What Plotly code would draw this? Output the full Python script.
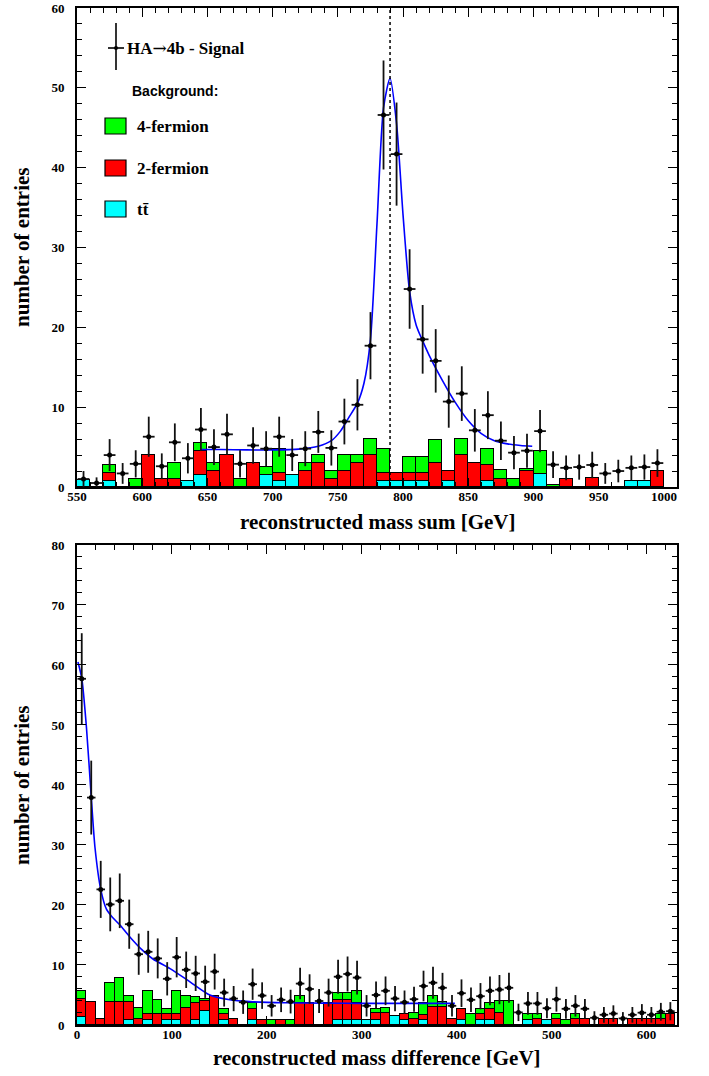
import numpy as np
import plotly.graph_objects as go

# ---------------- data: top panel (mass sum) ----------------
sum_edges = list(range(550, 1000, 10))  # left bin edges, 10 GeV bins
sum_signal = [1.0, 0.5, 4.0, 1.7, 2.9, 6.3, 2.6, 5.6, 3.6, 7.2,
              5.0, 6.6, 2.9, 5.2, 4.8, 6.3, 4.0, 4.8, 6.9, 4.9,
              8.2, 10.3, 17.7, 46.6, 41.7, 24.8, 18.5, 15.8, 10.7, 11.7,
              7.1, 9.0, 5.8, 4.3, 4.55, 7.0, 2.8, 2.4, 2.5, 2.76,
              1.7, 2.0, 2.4, 2.5, 3.0]
sum_tt = [0.85, 0, 0.8, 0, 0, 0, 0, 0, 0.8, 1.55,
          0, 0, 0, 0, 1.55, 0.8, 1.55, 0, 0, 0,
          0, 0, 0, 0.8, 0.8, 0.8, 0.8, 0, 0.8, 0,
          0, 0.8, 0, 0, 0, 1.6, 0, 0, 0, 0,
          0, 0, 0.8, 0.8, 0]
sum_2f = [0, 0, 0.95, 0, 0, 4.0, 1.0, 1.0, 0, 2.9,
          2.0, 4.0, 0, 2.97, 0, 1.0, 0, 2.0, 2.97, 1.0,
          2.0, 2.97, 3.97, 1.0, 1.0, 1.0, 1.0, 2.97, 1.2, 3.97,
          3.05, 1.96, 1.0, 0, 2.0, 0, 0, 1.05, 0, 1.1,
          0, 0, 0, 0, 2.05]
sum_4f = [0, 0, 1.0, 0, 1.0, 0, 0, 1.97, 0, 1.05,
          0.97, 0, 1.0, 0, 1.0, 2.93, 0, 0.97, 1.0, 1.0,
          1.97, 1.0, 2.0, 2.93, 0, 1.9, 1.9, 2.93, 0, 2.0,
          0, 2.04, 1.13, 1.0, 0.2, 2.9, 0.3, 0, 0, 0,
          0, 0, 0, 0, 0]
sum_fit_x = [645, 660, 680, 700, 720, 735, 745, 752, 758, 765, 770, 775, 780,
             785, 790, 795, 800, 805, 810, 815, 820, 830, 840, 850, 860, 870,
             880, 890, 899]
sum_fit_y = [4.7, 4.7, 4.65, 4.65, 4.75, 5.1, 5.8, 7.0, 8.6, 10.5, 13.0, 18.5,
             33.0, 47.5, 51.2, 45.5, 34.0, 24.5, 20.3, 18.3, 16.5, 13.4, 10.6,
             8.3, 6.7, 5.8, 5.4, 5.2, 5.1]
sum_peak = 790

# ---------------- data: bottom panel (mass difference) ----------------
diff_edges = list(range(0, 630, 10))
diff_signal = [57.7, 37.9, 22.6, 20.1, 20.7, 16.8, 11.8, 12.2, 11.1, 7.7,
               11.3, 9.2, 8.6, 7.2, 8.9, 5.4, 4.4, 3.8, 6.8, 4.9,
               3.2, 4.2, 3.9, 6.9, 6.0, 4.0, 5.4, 8.05, 8.5, 7.9,
               3.2, 5.0, 5.7, 4.4, 3.8, 4.3, 6.5, 7.05, 6.2, 3.2,
               5.3, 4.2, 4.8, 5.7, 5.9, 6.2, 2.1, 3.6, 3.6, 2.8,
               4.3, 2.7, 3.2, 2.7, 1.2, 1.7, 1.9, 1.1, 1.7, 2.05,
               1.7, 2.2, 2.3]
diff_tt = [1.4, 0, 0, 0, 0, 0.8, 0, 0.8, 0, 0.8,
           0.8, 0, 0.8, 2.3, 0, 0.8, 0, 0, 0.8, 0,
           0, 0, 0, 0, 0, 0, 0, 0.8, 0.8, 0.8,
           0.8, 0.8, 0, 1.55, 0.8, 0, 0.8, 0, 0, 0,
           0.8, 0, 0.8, 0.8, 0, 0, 0, 0.8, 0, 0.8,
           0, 0, 0, 0, 0, 0, 0, 0, 0, 0,
           0, 0, 0]
diff_2f = [3.0, 3.9, 0.95, 3.9, 3.9, 3.0, 0.95, 1.1, 1.9, 1.1,
           1.1, 2.9, 2.9, 1.7, 4.9, 1.0, 0.95, 0, 1.9, 0.9,
           0, 0.9, 0, 3.7, 3.7, 0, 3.7, 3.3, 3.3, 2.9,
           0, 1.2, 2.0, 0, 1.0, 0.95, 0.95, 3.0, 3.0, 0.95,
           1.9, 0, 1.1, 1.9, 2.0, 0, 0, 0, 0.95, 0,
           0.95, 0, 0.95, 0.95, 0, 0.95, 0.95, 0, 0.95, 0.95,
           0.95, 0.95, 1.9]
diff_4f = [1.2, 0, 0, 3.1, 3.9, 1.1, 1.95, 3.7, 2.2, 0.8,
           3.7, 2.0, 0.9, 0.4, 0, 0.9, 0, 0, 1.0, 0,
           0.9, 0, 0.9, 1.2, 0, 0, 0, 1.3, 1.3, 1.9,
           0, 0.7, 0.9, 0, 0, 1.05, 1.85, 1.9, 0.9, 0,
           0, 1.9, 0.8, 1.0, 2.0, 4.0, 0, 1.1, 0.95, 0,
           0.95, 0.9, 0.95, 0, 0, 0, 0, 0, 0, 0,
           0, 0.95, 0]
diff_fit_x = [1, 5, 10, 15, 19, 25, 31, 37, 45, 55, 68, 80, 98, 119, 140,
              161, 182, 220, 260, 300, 350, 398]
diff_fit_y = [60.5, 57.8, 49.5, 38.0, 29.5, 22.6, 19.3, 18.0, 16.7, 14.8,
              12.6, 11.0, 9.4, 7.2, 5.0, 4.2, 3.9, 3.7, 3.65, 3.6, 3.6, 3.6]

BIN = 10
GREEN, RED, CYAN = "#00ff00", "#ff0000", "#00ffff"
SERIF = "Liberation Serif"

fig = go.Figure()


def add_panel(edges, tt, f2, f4, sig, fx, fy, xa, ya):
    centers = np.array(edges) + BIN / 2
    for vals, col, name in [(tt, CYAN, "tt"), (f2, RED, "2-fermion"), (f4, GREEN, "4-fermion")]:
        fig.add_trace(go.Bar(x=centers, y=vals, width=BIN, marker=dict(color=col, line=dict(color="black", width=1.3)),
                             name=name, showlegend=False, xaxis=xa, yaxis=ya))
    fig.add_trace(go.Scatter(x=fx, y=fy, mode="lines", line=dict(color="#0000ff", width=1.6, shape="spline", smoothing=0.7),
                             showlegend=False, xaxis=xa, yaxis=ya, hoverinfo="skip"))
    sig = np.array(sig)
    fig.add_trace(go.Scatter(x=centers, y=sig, mode="markers",
                             marker=dict(color="black", size=5),
                             error_y=dict(type="data", array=np.sqrt(sig), color="#111111", thickness=1.8, width=0),
                             error_x=dict(type="constant", value=4.5, color="#111111", thickness=1.8, width=0),
                             showlegend=False, xaxis=xa, yaxis=ya))


add_panel(sum_edges, sum_tt, sum_2f, sum_4f, sum_signal, sum_fit_x, sum_fit_y, "x", "y")
add_panel(diff_edges, diff_tt, diff_2f, diff_4f, diff_signal, diff_fit_x, diff_fit_y, "x2", "y2")

tickfont = dict(family=SERIF, size=13, color="black", weight="bold")
axis_common = dict(showline=True, linewidth=2, linecolor="black", mirror="ticks", ticks="inside",
                   ticklen=9, tickwidth=1.3, tickcolor="black", showgrid=False, zeroline=False,
                   tickfont=tickfont, automargin=False)

fig.update_layout(
    width=709, height=1076,
    margin=dict(l=77, r=32, t=8, b=51, autoexpand=False),
    plot_bgcolor="white", paper_bgcolor="white",
    barmode="stack", bargap=0, showlegend=False,
    xaxis=dict(domain=[0, 1], range=[550, 1010], tick0=550, dtick=50, anchor="y", ticklabelstandoff=-4,
               minor=dict(dtick=10, ticklen=5, ticks="inside", tickcolor="black"), **axis_common),
    yaxis=dict(domain=[0.529, 1], range=[0, 60], dtick=10, anchor="x", ticklabelstandoff=8,
               minor=dict(dtick=2, ticklen=5, ticks="inside", tickcolor="black"), **axis_common),
    xaxis2=dict(domain=[0, 1], range=[0, 632], tick0=0, dtick=100, anchor="y2", ticklabelstandoff=-4,
                minor=dict(dtick=20, ticklen=5, ticks="inside", tickcolor="black"), **axis_common),
    yaxis2=dict(domain=[0, 0.472], range=[0, 80], dtick=10, anchor="x2", ticklabelstandoff=8,
                minor=dict(dtick=2, ticklen=5, ticks="inside", tickcolor="black"), **axis_common),
)

# dotted vertical line at the nominal mass sum
fig.add_shape(type="line", x0=sum_peak, x1=sum_peak, y0=0, y1=1, xref="x", yref="y domain",
              line=dict(color="black", width=1.5, dash="dot"))

titlefont = dict(family=SERIF, size=21, color="black", weight="bold")
ann = [
    dict(text="reconstructed mass sum [GeV]", x=0.5, y=0.4946, xref="paper", yref="paper",
         showarrow=False, font=titlefont, xanchor="center", yanchor="middle"),
    dict(text="reconstructed mass difference [GeV]", x=0.5, y=-0.0324, xref="paper", yref="paper",
         showarrow=False, font=titlefont, xanchor="center", yanchor="middle"),
    dict(text="number of entries", x=-0.0917, y=0.765, xref="paper", yref="paper", textangle=-90,
         showarrow=False, font=titlefont, xanchor="center", yanchor="middle"),
    dict(text="number of entries", x=-0.0917, y=0.236, xref="paper", yref="paper", textangle=-90,
         showarrow=False, font=titlefont, xanchor="center", yanchor="middle"),
]

# ---- hand-drawn legend in the top panel (domain coordinates) ----
def dx(px):
    return (px - 77) / 600


def dy(py):
    return (487 - py) / 479


legfont = dict(family=SERIF, size=17, color="black", weight="bold")
fig.add_shape(type="line", xref="x domain", yref="y domain", x0=dx(116), x1=dx(116), y0=dy(23), y1=dy(70),
              line=dict(color="black", width=1.6))
fig.add_shape(type="line", xref="x domain", yref="y domain", x0=dx(108), x1=dx(124), y0=dy(48), y1=dy(48),
              line=dict(color="black", width=1.6))
fig.add_shape(type="circle", xref="x domain", yref="y domain", x0=dx(114), x1=dx(118), y0=dy(50), y1=dy(46),
              fillcolor="black", line=dict(color="black", width=0))
ann.append(dict(text="HA<span style=\"font-family:'DejaVu Serif';font-weight:normal\">→</span>4b - Signal",
                x=dx(125), y=dy(48), xref="x domain", yref="y domain",
                showarrow=False, font=legfont, xanchor="left", yanchor="middle"))
ann.append(dict(text="Background:", x=dx(130), y=dy(91), xref="x domain", yref="y domain",
                showarrow=False, font=dict(family="Liberation Sans", size=14, color="black", weight="bold"),
                xanchor="left", yanchor="middle"))
for col, label, yc in [(GREEN, "4-fermion", 126), (RED, "2-fermion", 168), (CYAN, "tt\u0304", 209)]:
    fig.add_shape(type="rect", xref="x domain", yref="y domain", x0=dx(105), x1=dx(126),
                  y0=dy(yc - 8), y1=dy(yc + 8), fillcolor=col, line=dict(color="black", width=1.2))
    ann.append(dict(text=label, x=dx(135), y=dy(yc), xref="x domain", yref="y domain",
                    showarrow=False, font=legfont, xanchor="left", yanchor="middle"))

fig.update_layout(annotations=ann)
fig.write_html("out.html")
